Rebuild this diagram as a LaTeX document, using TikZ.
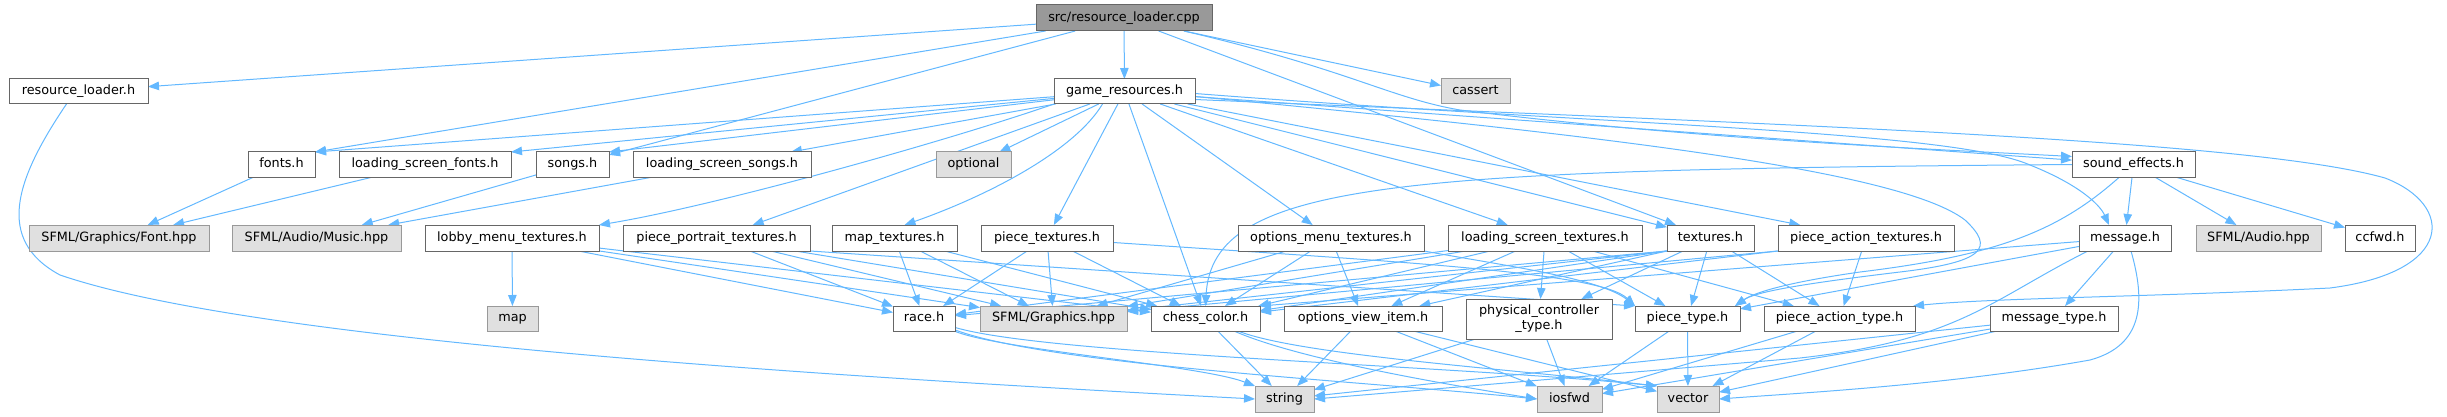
\documentclass[tikz,border=0pt]{standalone}
\usepackage{fontspec}
\newfontfamily\dvs{DejaVu Sans}
\usetikzlibrary{arrows.meta,backgrounds}
\definecolor{edgec}{HTML}{63B8FF}
\definecolor{nborder}{HTML}{666666}
\definecolor{gborder}{HTML}{999999}
\definecolor{gfill}{HTML}{E0E0E0}
\definecolor{tfill}{HTML}{999999}
\newcommand\dnode[7]{\node[#1,minimum width={(#5-#4)*1pt},minimum height={(#7-#6)*1pt}] (#2) at ({(#4+#5)/2},{(#6+#7)/2}) {#3};}
\tikzset{
  basebox/.style={draw=nborder, fill=white, line width=1pt, inner sep=0pt, outer sep=0pt,
    font={\dvs\fontsize{12.8}{15}\selectfont}, align=center},
  box/.style={basebox, text height=9.6pt, text depth=2.8pt},
  ext/.style={box, draw=gborder, fill=gfill},
  topbox/.style={box, fill=tfill},
  edge/.style={draw=edgec, line width=1pt, -{Triangle[length=11pt,width=8.5pt]}},
}
\begin{document}
\begin{tikzpicture}[x=1pt,y=-1pt]
\useasboundingbox (0,0) rectangle (2447,417);
% rank 0
\dnode{topbox}{T}{src/resource\_loader.cpp}{1036}{1212}{5}{31}
% rank 1
\dnode{box}{rl}{resource\_loader.h}{9}{148}{79}{104}
\dnode{box}{gr}{game\_resources.h}{1054}{1195}{79}{104}
\dnode{ext}{cassert}{cassert}{1441}{1510}{79}{104}
% rank 2
\dnode{box}{fonts}{fonts.h}{248}{315}{152}{177}
\dnode{box}{lsf}{loading\_screen\_fonts.h}{339}{511}{152}{177}
\dnode{box}{songs}{songs.h}{536}{609}{152}{177}
\dnode{box}{lss}{loading\_screen\_songs.h}{633}{811}{152}{177}
\dnode{ext}{optional}{optional}{936}{1011}{152}{177}
\dnode{box}{se}{sound\_effects.h}{2072}{2195}{152}{177}
% rank 3
\dnode{ext}{font}{SFML/Graphics/Font.hpp}{29}{209}{225}{251}
\dnode{ext}{music}{SFML/Audio/Music.hpp}{232}{401}{225}{251}
\dnode{box}{lmt}{lobby\_menu\_textures.h}{425}{599}{225}{251}
\dnode{box}{ppt}{piece\_portrait\_textures.h}{623}{810}{225}{251}
\dnode{box}{mt}{map\_textures.h}{832}{957}{225}{251}
\dnode{box}{pt}{piece\_textures.h}{981}{1113}{225}{251}
\dnode{box}{omt}{options\_menu\_textures.h}{1238}{1424}{225}{251}
\dnode{box}{lst}{loading\_screen\_textures.h}{1448}{1642}{225}{251}
\dnode{box}{tex}{textures.h}{1667}{1754}{225}{251}
\dnode{box}{pat}{piece\_action\_textures.h}{1778}{1954}{225}{251}
\dnode{box}{msg}{message.h}{2079}{2171}{225}{251}
\dnode{ext}{audio}{SFML/Audio.hpp}{2196}{2321}{225}{251}
\dnode{box}{ccfwd}{ccfwd.h}{2345}{2415}{225}{251}
% rank 4
\dnode{ext}{map}{map}{487}{538}{306}{331}
\dnode{box}{race}{race.h}{893}{955}{306}{331}
\dnode{ext}{gfx}{SFML/Graphics.hpp}{980}{1127}{306}{331}
\dnode{box}{cc}{chess\_color.h}{1151}{1260}{306}{331}
\dnode{box}{ovi}{options\_view\_item.h}{1284}{1442}{306}{331}
\dnode{basebox}{pct}{physical\_controller\\\_type.h}{1466}{1612}{299}{339}
\dnode{box}{ptype}{piece\_type.h}{1635}{1740}{306}{331}
\dnode{box}{patype}{piece\_action\_type.h}{1764}{1915}{306}{331}
\dnode{box}{mtype}{message\_type.h}{1990}{2118}{306}{331}
% rank 5
\dnode{ext}{string}{string}{1255}{1314}{386}{412}
\dnode{ext}{iosfwd}{iosfwd}{1537}{1602}{386}{412}
\dnode{ext}{vector}{vector}{1657}{1719}{386}{412}

\begin{scope}[on background layer]
% from top
\draw[edge] (T) -- (rl);
\draw[edge] (T) -- (gr);
\draw[edge] ([xshift=-28pt]T.south east) -- ([yshift=6pt]cassert.west);
\draw[edge] (T) -- (fonts.north east);
\draw[edge] (T) -- (songs);
\draw[edge] (T) -- (tex);
\draw[edge] ([xshift=-28pt]T.south east) .. controls (1350,70) and (1390,98) .. (1460,110) .. controls (1700,140) and (1950,150) .. ([yshift=8pt]se.west);
% from game_resources
\draw[edge] (gr) -- (fonts.north east);
\draw[edge] (gr) -- (lsf.north east);
\draw[edge] (gr) -- (songs.north east);
\draw[edge] (gr) -- (lss);
\draw[edge] (gr) -- (optional);
\draw[edge] (gr.south west) .. controls (950,140) and (720,205) .. (lmt.north east);
\draw[edge] (gr) -- (ppt);
\draw[edge] ([xshift=-22pt]gr.south) .. controls (1075,150) and (990,195) .. ([xshift=10pt]mt.north);
\draw[edge] (gr) -- (pt);
\draw[edge] (gr) -- (cc);
\draw[edge] (gr) -- (omt);
\draw[edge] (gr) -- (lst);
\draw[edge] (gr) -- (tex);
\draw[edge] (gr) -- (pat);
\draw[edge] (gr) -- (se);
\draw[edge] ([yshift=-2pt]gr.east) .. controls (1600,125) and (1950,130) .. (2030,165) .. controls (2080,185) and (2100,205) .. ([xshift=-16pt]msg.north);
\draw[edge] ([yshift=-5pt]gr.east) .. controls (1600,135) and (1900,170) .. (1965,220) .. controls (1995,248) and (1985,262) .. (1900,272) .. controls (1800,284) and (1755,292) .. ([xshift=-5pt]ptype.north east);
\draw[edge] ([yshift=-8pt]gr.east) .. controls (1800,125) and (2250,140) .. (2385,178) .. controls (2455,205) and (2455,272) .. (2330,288) .. controls (2150,297) and (1990,298) .. ([xshift=-2pt]patype.north east);
% rank 2 -> rank 3
\draw[edge] (fonts) -- (font);
\draw[edge] (lsf) -- (font);
\draw[edge] (songs) -- (music);
\draw[edge] (lss) -- (music);
\draw[edge] (se) -- (msg);
\draw[edge] (se) -- (audio);
\draw[edge] (se) -- (ccfwd);
\draw[edge] (se.west) .. controls (1400,170) and (1212,180) .. (cc.north);
\draw[edge] ([xshift=-14pt]se.south) .. controls (2060,230) and (2000,255) .. (1860,272) .. controls (1790,282) and (1755,292) .. ([xshift=-5pt]ptype.north east);
% rank 3 -> rank 4
\draw[edge] (lmt) -- (map);
\draw[edge] (lmt) -- (race);
\draw[edge] (lmt) -- (gfx);
\draw[edge] (lmt) -- (cc);
\draw[edge] (ppt) -- (race);
\draw[edge] (ppt) -- (gfx);
\draw[edge] (ppt) -- (cc);
\draw[edge] (ppt.south east) -- (ptype.north west);
\draw[edge] (mt) -- (race);
\draw[edge] (mt) -- (gfx);
\draw[edge] (mt) -- (cc);
\draw[edge] (pt) -- (race);
\draw[edge] (pt) -- (gfx);
\draw[edge] (pt) -- (cc);
\draw[edge] (pt) .. controls (1400,262) and (1600,272) .. (ptype.north west);
\draw[edge] (omt) -- (gfx);
\draw[edge] (omt) -- (cc);
\draw[edge] (omt) -- (ovi);
\draw[edge] (omt.south east) .. controls (1500,265) and (1600,278) .. (ptype.north west);
\draw[edge] (lst) -- (race);
\draw[edge] (lst) -- (gfx);
\draw[edge] (lst) -- (cc);
\draw[edge] (lst) -- (ovi);
\draw[edge] (lst) -- (pct);
\draw[edge] (lst) -- (ptype);
\draw[edge] (lst) -- (patype);
\draw[edge] (tex.south west) -- (race);
\draw[edge] (tex.south west) -- (gfx);
\draw[edge] (tex.south west) -- (cc);
\draw[edge] (tex.south west) -- (ovi);
\draw[edge] (tex) -- (pct);
\draw[edge] (tex) -- (ptype);
\draw[edge] (tex) -- (patype);
\draw[edge] (pat) -- (patype);
\draw[edge] (pat.south west) -- (gfx);
\draw[edge] (pat.south west) -- (cc);
\draw[edge] (msg) -- (ptype);
\draw[edge] (msg) -- (cc.north east);
\draw[edge] (msg) -- (mtype);
\draw[edge] ([xshift=6pt]msg.south) .. controls (2145,300) and (2145,345) .. (2090,360) .. controls (1950,385) and (1800,393) .. (vector.east);
\draw[edge] ([xshift=-37pt]msg.south) .. controls (1990,300) and (1960,340) .. (1800,358) .. controls (1600,375) and (1400,392) .. (string.east);
% rank 4 -> rank 5
\draw[edge] (race) .. controls (1000,350) and (1200,365) .. (string.north west);
\draw[edge] (race) .. controls (1050,365) and (1350,380) .. (iosfwd.west);
\draw[edge] (race) .. controls (1050,355) and (1450,365) .. (vector.north west);
\draw[edge] (cc) -- (string);
\draw[edge] (cc) .. controls (1300,360) and (1450,385) .. (iosfwd.west);
\draw[edge] (cc) .. controls (1300,355) and (1500,368) .. (vector.north west);
\draw[edge] (ovi) -- (string);
\draw[edge] (ovi) -- (iosfwd);
\draw[edge] (ovi) -- (vector);
\draw[edge] (pct) -- (string);
\draw[edge] (pct) -- (iosfwd);
\draw[edge] (ptype) -- (iosfwd);
\draw[edge] (ptype) -- (vector);
\draw[edge] (patype) -- (iosfwd);
\draw[edge] (patype) -- (vector);
\draw[edge] (mtype) -- (string);
\draw[edge] (mtype) -- (iosfwd);
\draw[edge] (mtype) -- (vector);
\draw[edge] ([xshift=-12pt]rl.south) .. controls (15,180) and (-5,240) .. (60,275) .. controls (250,340) and (800,375) .. (string.west);
\end{scope}
\end{tikzpicture}
\end{document}
